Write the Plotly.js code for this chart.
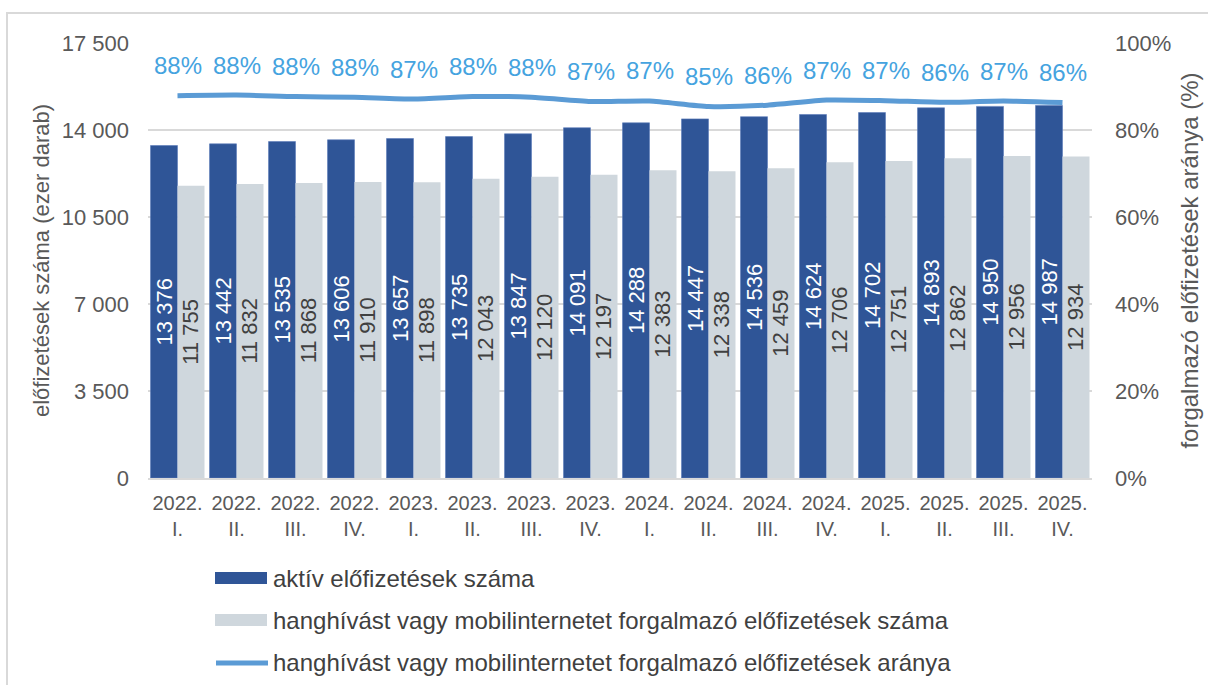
<!DOCTYPE html>
<html>
<head>
<meta charset="utf-8">
<script src="https://cdn.plot.ly/plotly-3.0.1.min.js"></script>
<style>
html,body{margin:0;padding:0;background:#fff;overflow:hidden;}
#chart{width:1208px;height:685px;}
#frame{position:absolute;left:6px;top:12px;width:1300px;height:800px;border:2px solid #d9d9d9;pointer-events:none;}
</style>
</head>
<body>
<div id="chart"></div>
<div id="frame"></div>
<script>
const categories = ["2022.<br>I.","2022.<br>II.","2022.<br>III.","2022.<br>IV.",
  "2023.<br>I.","2023.<br>II.","2023.<br>III.","2023.<br>IV.",
  "2024.<br>I.","2024.<br>II.","2024.<br>III.","2024.<br>IV.",
  "2025.<br>I.","2025.<br>II.","2025.<br>III.","2025.<br>IV."];
const activeSubs = [13376,13442,13535,13606,13657,13735,13847,14091,14288,14447,14536,14624,14702,14893,14950,14987];
const trafficSubs = [11755,11832,11868,11910,11898,12043,12120,12197,12383,12338,12459,12706,12751,12862,12956,12934];
const trafficShare = [0.8788,0.8802,0.8768,0.8754,0.8712,0.8768,0.8753,0.8656,0.8667,0.8540,0.8571,0.8688,0.8673,0.8636,0.8666,0.8630];
const seriesNames = ["aktív előfizetések száma",
  "hanghívást vagy mobilinternetet forgalmazó előfizetések száma",
  "hanghívást vagy mobilinternetet forgalmazó előfizetések aránya"];
const leftTicks = [0,3500,7000,10500,14000,17500];
const leftTickText = ["0","3 500","7 000","10 500","14 000","17 500"];

const fmtSp = v => String(v).replace(/\B(?=(\d{3})+(?!\d))/g, " ");

const DARK = "#2f5597", LIGHT = "#cfd7dd", LINE = "#5b9bd5", PCT = "#45a3df", AXTXT = "#595959";
const FONT = "Liberation Sans, Arial, sans-serif";

const traces = [
  {type:"bar", x:categories, y:activeSubs, name:seriesNames[0],
   marker:{color:DARK, line:{width:0.6, color:"#5a7bb8"}},
   text:activeSubs.map(fmtSp), textposition:"inside", insidetextanchor:"middle", constraintext:"none",
   textangle:-90, textfont:{family:FONT, size:22, color:"#ffffff"},
   showlegend:false, hoverinfo:"x+y"},
  {type:"bar", x:categories, y:trafficSubs, name:seriesNames[1],
   marker:{color:LIGHT},
   text:trafficSubs.map(fmtSp), textposition:"inside", insidetextanchor:"middle", constraintext:"none",
   textangle:-90, textfont:{family:FONT, size:22, color:"#404040"},
   showlegend:false, hoverinfo:"x+y"},
  {type:"scatter", mode:"lines", x:categories, y:trafficShare, yaxis:"y2", name:seriesNames[2],
   line:{color:LINE, width:5, shape:"spline", smoothing:0.6}, showlegend:false, hoverinfo:"x+y"}
];

const annotations = trafficShare.map((v,i)=>({
  x:categories[i], y:v, xref:"x", yref:"y2", yshift:30, showarrow:false,
  text:Math.round(v*100)+"%", font:{family:FONT, size:24, color:PCT}
}));

// custom legend
const shapes = [];
const legY = [578, 620, 662];
const plotTop = 43, plotH = 435, plotL = 148, plotW = 944;
const py = p => (plotTop + plotH - p) / plotH;
const px = p => (p - plotL) / plotW;
shapes.push({type:"rect", xref:"paper", yref:"paper", x0:px(215), x1:px(267), y0:py(legY[0]-6), y1:py(legY[0]+6), fillcolor:DARK, line:{width:0}});
shapes.push({type:"rect", xref:"paper", yref:"paper", x0:px(215), x1:px(267), y0:py(legY[1]-6), y1:py(legY[1]+6), fillcolor:LIGHT, line:{width:0}});
shapes.push({type:"line", xref:"paper", yref:"paper", x0:px(216), x1:px(268), y0:py(legY[2]+1), y1:py(legY[2]+1), line:{color:LINE, width:5}});
seriesNames.forEach((n,i)=>{
  annotations.push({xref:"paper", yref:"paper", x:px(271), y:py(legY[i]), xanchor:"left", yanchor:"middle",
    showarrow:false, text:n, font:{family:FONT, size:24, color:"#404040"}});
});

const layout = {
  width:1208, height:685,
  margin:{l:148, r:116, t:43, b:207},
  paper_bgcolor:"#ffffff", plot_bgcolor:"#ffffff",
  font:{family:FONT, color:AXTXT},
  barmode:"group", bargap:0.085, bargroupgap:0,
  showlegend:false,
  xaxis:{type:"category", tickfont:{family:FONT, size:20, color:AXTXT}, ticklabelstandoff:6,
    showline:true, linecolor:"#d9d9d9", linewidth:2, ticks:"", showgrid:false, fixedrange:true},
  yaxis:{range:[0,17500], tickvals:leftTicks, ticktext:leftTickText,
    tickfont:{family:FONT, size:22, color:AXTXT}, showgrid:true, gridcolor:"#d9d9d9", gridwidth:1.5,
    zeroline:false, ticks:"", ticklabelstandoff:18,
    title:{text:"előfizetések száma (ezer darab)", font:{family:FONT, size:22, color:AXTXT}, standoff:6}},
  yaxis2:{overlaying:"y", side:"right", range:[0,1], tickvals:[0,0.2,0.4,0.6,0.8,1], tickformat:".0%",
    tickfont:{family:FONT, size:22, color:AXTXT}, showgrid:false, zeroline:false, ticks:"", ticklabelstandoff:22,
    title:{text:"forgalmazó előfizetések aránya (%)", font:{family:FONT, size:24, color:AXTXT}, standoff:10}},
  annotations:annotations,
  shapes:shapes
};

Plotly.newPlot("chart", traces, layout, {displayModeBar:false, staticPlot:true});
</script>
</body>
</html>
